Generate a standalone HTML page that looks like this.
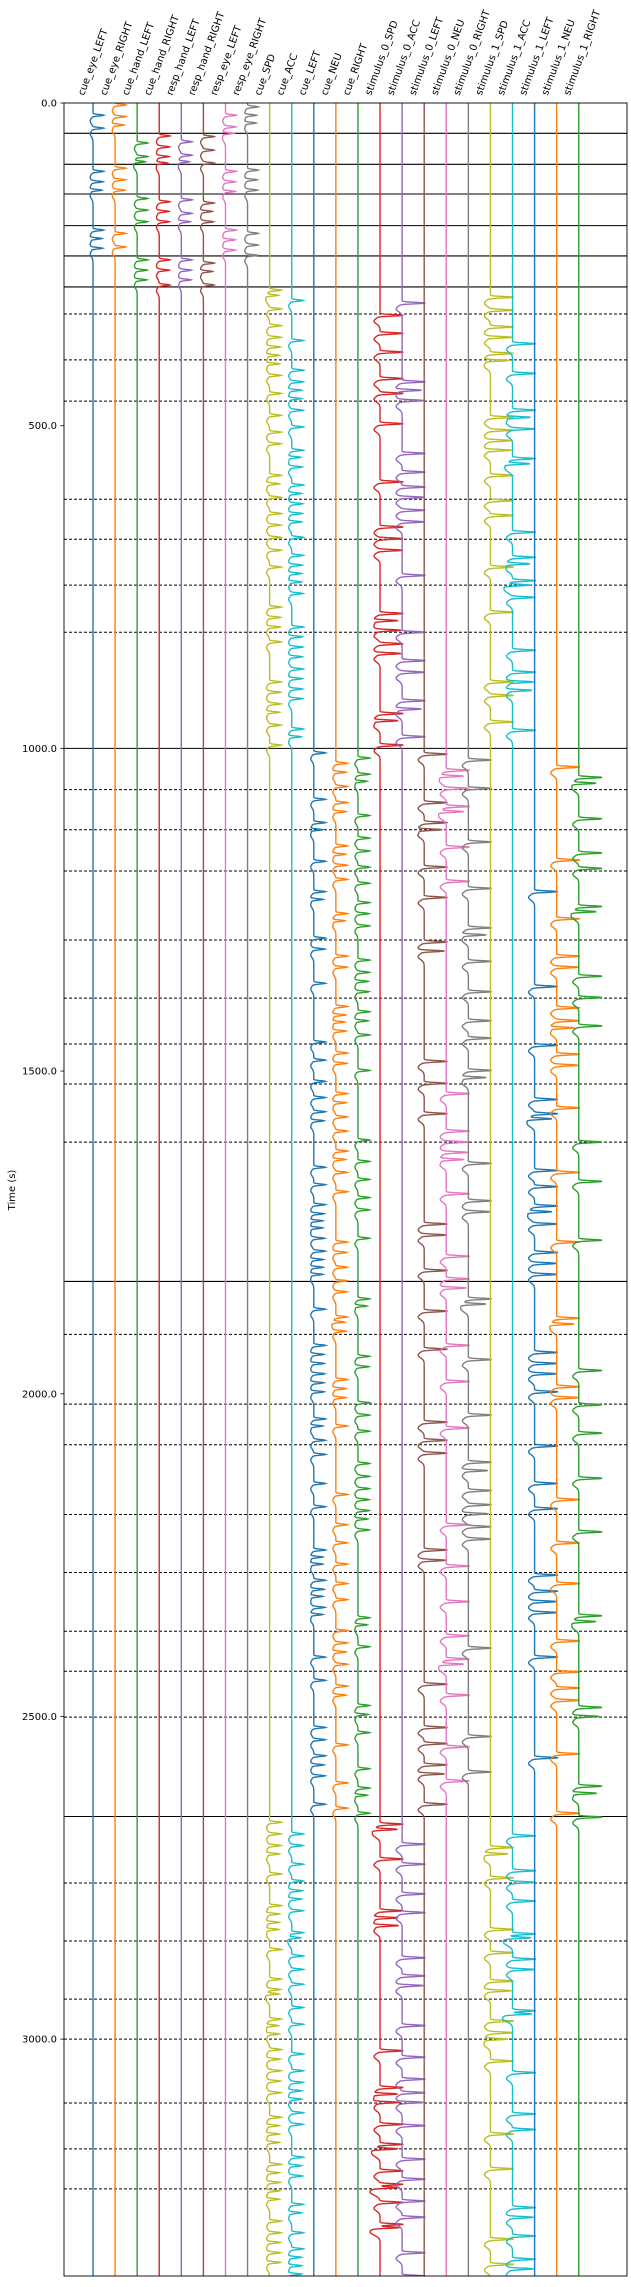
<!DOCTYPE html>
<html><head><meta charset="utf-8"><style>
html,body{margin:0;padding:0;background:#fff;}
svg{display:block;font-family:"DejaVu Sans","Liberation Sans",sans-serif;}
</style></head><body>
<svg id="chart" width="631" height="2287" viewBox="0 0 631 2287" xmlns="http://www.w3.org/2000/svg">
<g id="grid"></g>
<g id="traces"></g>
<rect x="64" y="103" width="563" height="2173" fill="none" stroke="#000" stroke-width="0.9"/>
<g id="yaxis"></g>
<g id="xaxis"></g>
<text transform="translate(15,1190) rotate(-90)" text-anchor="middle" font-size="10">Time (s)</text>
</svg>
<script>
const channels = ["cue_eye_LEFT","cue_eye_RIGHT","cue_hand_LEFT","cue_hand_RIGHT","resp_hand_LEFT","resp_hand_RIGHT","resp_eye_LEFT","resp_eye_RIGHT","cue_SPD","cue_ACC","cue_LEFT","cue_NEU","cue_RIGHT","stimulus_0_SPD","stimulus_0_ACC","stimulus_0_LEFT","stimulus_0_NEU","stimulus_0_RIGHT","stimulus_1_SPD","stimulus_1_ACC","stimulus_1_LEFT","stimulus_1_NEU","stimulus_1_RIGHT"];
const colors = ["#1f77b4","#ff7f0e","#2ca02c","#d62728","#9467bd","#8c564b","#e377c2","#7f7f7f","#bcbd22","#17becf"];
const yTicks = [0,500,1000,1500,2000,2500,3000];
const solidLines = [47,95,141,190,237,285,1000,1826,2655];
const dashedLines = [327,398,462,614,676,747,820,1064,1126,1190,1297,1387,1458,1520,1610,1908,2016,2079,2187,2277,2368,2430,2501,2758,2848,2938,3000,3099,3170,3232];
const amplitude = [11,11,11,11,11,11,11,11,12,12,12,12,12,24,24,24,24,24,24,24,24,24,24];
const ev_cue_eye_LEFT = [19,39,106,122,135,197,210,225];
const ev_cue_eye_RIGHT = [3,21,34,101,119,135,202,223];
const ev_cue_hand_LEFT = [62,83,91,148,166,184,243,259,274];
const ev_cue_hand_RIGHT = [51,68,83,93,153,168,184,243,259,282];
const ev_resp_hand_LEFT = [60,81,91,150,171,184,243,259,274];
const ev_resp_hand_RIGHT = [52,73,93,155,168,184,248,261,282];
const ev_resp_eye_LEFT = [19,37,47,106,122,137,197,212,228];
const ev_resp_eye_RIGHT = [6,19,31,104,119,135,202,220,236];
const ev_cue_SPD = [290,298,319,345,363,378,391,404,422,450,484,510,528,577,590,611,636,654,673,693,719,781,797,812,835,897,913,931,944,964,995,
 2664,2682,2700,2713,2744,2793,2806,2819,2830,2861,2907,2923,2930,2969,2979,2992,3016,3031,3049,3065,3083,3121,3134,3147,3160,3194,3207,3222,3235,3248,3282,3300,3315,3331,3346];
const ev_cue_ACC = [306,368,414,432,445,458,476,502,538,549,564,592,605,621,636,649,673,701,716,729,742,760,812,827,843,858,877,892,908,923,970,982,
 2682,2700,2729,2755,2770,2783,2801,2835,2843,2871,2892,2915,2951,2977,3023,3049,3067,3080,3093,3114,3132,3183,3196,3212,3256,3269,3300,3325,3338,3351,3364];
const ev_cue_LEFT = [1007,1079,1115,1126,1175,1222,1234,1294,1311,1364,1455,1483,1516,1541,1563,1577,1649,1676,1707,1721,1732,1743,1759,1779,1792,1804,1815,
 1869,1925,1939,1953,1969,1983,1997,2039,2050,2072,2094,2139,2175,2242,2253,2264,2289,2303,2314,2331,2342,2408,2444,2517,2536,2561,2575,2592,2636];
const ev_cue_NEU = [1023,1037,1059,1084,1098,1151,1164,1181,1203,1256,1267,1322,1339,1400,1413,1424,1438,1472,1488,1535,1549,1571,1593,1624,1637,1657,1687,1765,1781,1804,
 1825,1842,1881,1889,1903,1978,1992,2006,2050,2156,2203,2231,2264,2294,2319,2367,2386,2400,2419,2453,2467,2544,2603,2642];
const ev_cue_RIGHT = [1015,1040,1051,1104,1139,1159,1184,1209,1239,1256,1275,1328,1347,1361,1377,1408,1422,1444,1499,1607,1640,1668,1696,1715,1759,
 1853,1864,1942,1958,2014,2033,2058,2108,2128,2147,2164,2181,2194,2211,2347,2358,2392,2483,2497,2525,2581,2611,2622,2650];
const ev_stim0_SPD = [329,357,386,427,450,497,587,657,675,693,791,802,817,838,853,946,957,995,
 2667,2675,2721,2801,2812,2824,3018,3075,3085,3098,3132,3163,3170,3204,3225,3230,3253,3287,3292];
const ev_stim0_ACC = [310,432,445,461,543,572,595,611,631,649,732,820,864,882,926,939,982,
 2698,2729,2775,2804,2874,2902,2917,2979,3028,3062,3083,3098,3134,3186,3217,3251,3276,3331,3367];
const ev_stim0_LEFT = [1009,1084,1115,1126,1184,1231,1300,1314,1485,1519,1566,1737,1754,1809,
 1872,1931,2044,2072,2092,2242,2258,2450,2517,2542,2575,2589,2636];
const ev_stim0_NEU = [1034,1043,1062,1090,1098,1153,1206,1535,1593,1610,1626,1637,1690,1787,
 1822,1836,1925,1981,2053,2203,2267,2322,2375,2411,2419,2467,2547,2600];
const ev_stim0_RIGHT = [1018,1062,1145,1217,1278,1289,1330,1377,1422,1449,1499,1510,1643,1701,1718,
 1853,1861,1947,2033,2106,2119,2150,2172,2186,2206,2225,2394,2531,2586];
const ev_stim1_SPD = [301,321,347,363,388,399,487,507,523,538,577,616,639,719,789,897,918,959,
 2703,2713,2750,2830,2866,2910,2925,2972,2990,3000,3034,3147,3201,3310,3349];
const ev_stim1_ACC = [373,419,476,487,505,551,559,665,704,714,740,747,766,848,882,897,910,972,
 2685,2739,2757,2786,2837,2843,2876,2892,2956,2961,3052,3116,3140,3261,3276,3305,3341,3356];
const ev_stim1_LEFT = [1222,1369,1460,1544,1566,1574,1654,1679,1709,1718,1737,1781,1798,1815,
 1936,1953,1969,1997,2081,2139,2178,2281,2306,2322,2339,2408,2564];
const ev_stim1_NEU = [1029,1173,1264,1322,1339,1402,1422,1433,1474,1491,1557,1657,1765,
 1883,1892,1989,2006,2164,2231,2294,2383,2431,2456,2475,2558,2650];
const ev_stim1_RIGHT = [1045,1054,1109,1162,1186,1245,1253,1353,1386,1430,1610,1671,1762,
 1964,2017,2061,2131,2214,2344,2353,2486,2500,2608,2619,2656];

const events = [ev_cue_eye_LEFT,ev_cue_eye_RIGHT,ev_cue_hand_LEFT,ev_cue_hand_RIGHT,ev_resp_hand_LEFT,ev_resp_hand_RIGHT,ev_resp_eye_LEFT,ev_resp_eye_RIGHT,ev_cue_SPD,ev_cue_ACC,ev_cue_LEFT,ev_cue_NEU,ev_cue_RIGHT,ev_stim0_SPD,ev_stim0_ACC,ev_stim0_LEFT,ev_stim0_NEU,ev_stim0_RIGHT,ev_stim1_SPD,ev_stim1_ACC,ev_stim1_LEFT,ev_stim1_NEU,ev_stim1_RIGHT];

const NS = "http://www.w3.org/2000/svg";
const T0 = 0, T1 = 3367, PY0 = 103, PY1 = 2276, PX0 = 64, PX1 = 627;
const yScale = t => PY0 + (t - T0) / (T1 - T0) * (PY1 - PY0);
const xScale = i => 93 + 22.08 * i;
function kernel(dt){
  if (dt < -6 || dt > 26) return 0;
  return Math.exp(-0.5 * (dt / 1.1) * (dt / 1.1)) - 0.25 * Math.exp(-Math.pow((dt - 9) / 6, 2));
}
const grid = document.getElementById('grid');
solidLines.forEach(t => {
  const l = document.createElementNS(NS, 'line');
  
  
  l.setAttribute('x1', PX0); l.setAttribute('x2', PX1);
  l.setAttribute('y1', yScale(t)); l.setAttribute('y2', yScale(t));
  l.setAttribute('stroke', '#000'); l.setAttribute('stroke-width', '1.1');
  grid.appendChild(l);
});
dashedLines.forEach(t => {
  const l = document.createElementNS(NS, 'line');
  
  
  l.setAttribute('x1', PX0); l.setAttribute('x2', PX1);
  l.setAttribute('y1', yScale(t)); l.setAttribute('y2', yScale(t));
  l.setAttribute('stroke', '#000'); l.setAttribute('stroke-width', '1');
  l.setAttribute('stroke-dasharray', '3,2');
  grid.appendChild(l);
});
const traces = document.getElementById('traces');
channels.forEach((name, i) => {
  const ev = events[i];
  const amp = amplitude[i];
  const x0 = xScale(i);
  let d = '';
  for (let t = T0; t <= T1; t += 0.5) {
    let v = 0;
    for (let k = 0; k < ev.length; k++) v += kernel(t - ev[k]);
    const x = x0 + v * amp;
    d += (d ? 'L' : 'M') + x.toFixed(2) + ',' + yScale(t).toFixed(2);
  }
  const p = document.createElementNS(NS, 'path');
  
  
  p.setAttribute('d', d);
  p.setAttribute('fill', 'none');
  p.setAttribute('stroke', colors[i % 10]);
  p.setAttribute('stroke-width', '1.4');
  traces.appendChild(p);
});
const yaxis = document.getElementById('yaxis');
yTicks.forEach(t => {
  const y = yScale(t);
  const tk = document.createElementNS(NS, 'line');
  
  
  tk.setAttribute('x1', PX0 - 3.5); tk.setAttribute('x2', PX0);
  tk.setAttribute('y1', y); tk.setAttribute('y2', y);
  tk.setAttribute('stroke', '#000'); tk.setAttribute('stroke-width', '0.8');
  yaxis.appendChild(tk);
  const tx = document.createElementNS(NS, 'text');
  
  
  tx.setAttribute('x', PX0 - 7); tx.setAttribute('y', y + 3.5);
  tx.setAttribute('text-anchor', 'end'); tx.setAttribute('font-size', '10');
  tx.textContent = t.toFixed(1);
  yaxis.appendChild(tx);
});
const xaxis = document.getElementById('xaxis');
channels.forEach((name, i) => {
  const tx = document.createElementNS(NS, 'text');
  
  
  tx.setAttribute('transform', 'translate(' + (xScale(i) - 9) + ',96) rotate(-70)');
  tx.setAttribute('font-size', '10');
  tx.textContent = name;
  xaxis.appendChild(tx);
});
</script>
</body></html>
